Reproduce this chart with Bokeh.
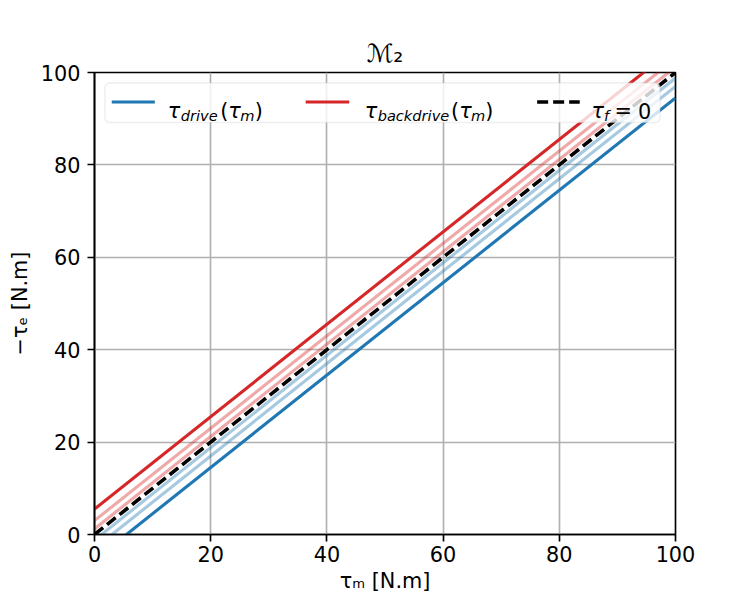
from bokeh.plotting import figure
from bokeh.models import Range1d, FixedTicker, Label, BoxAnnotation, Arrow
from bokeh.embed import file_html
from bokeh.resources import INLINE

# ---- data ----
tau_m = [0.0, 100.0]
drive_strong = [-5.5, 94.5]
drive_mid = [-3.0, 97.0]
drive_weak = [-1.2, 98.8]
back_strong = [5.5, 105.5]
back_mid = [3.0, 103.0]
back_weak = [1.2, 101.2]
no_friction = [0.0, 100.0]
ticks = [0, 20, 40, 60, 80, 100]

BLUE = "#1f77b4"
RED = "#d62728"
FONT = "DejaVu Sans"
FS = "20.8px"
FS_SUB = "14.6px"
LW = 3.1

p = figure(width=750, height=600, x_range=Range1d(0, 100), y_range=Range1d(0, 100),
           output_backend="svg", toolbar_location=None,
           min_border_left=94, min_border_right=75, min_border_top=72, min_border_bottom=66)
p.background_fill_color = "white"
p.border_fill_color = "white"
p.outline_line_color = "black"
p.outline_line_width = 1.67
p.outline_line_alpha = 1.0

p.title.text = "ℳ₂"
p.title.align = "center"
p.title.text_font = FONT
p.title.text_font_size = "25px"
p.title.text_font_style = "normal"
p.title.text_color = "black"
p.title.standoff = 9

for ax in (p.xaxis, p.yaxis):
    ax.ticker = FixedTicker(ticks=ticks)
    ax.axis_line_width = 1.67
    ax.axis_line_color = "black"
    ax.major_tick_line_width = 1.67
    ax.major_tick_line_color = "black"
    ax.major_tick_out = 7
    ax.major_tick_in = 0
    ax.minor_tick_line_color = None
    ax.major_label_text_font = FONT
    ax.major_label_text_font_size = FS
    ax.major_label_text_color = "black"
    ax.axis_label_text_font = FONT
    ax.axis_label_text_font_size = FS
    ax.axis_label_text_font_style = "normal"
    ax.axis_label_text_color = "black"
p.xaxis.major_label_standoff = 4
p.yaxis.major_label_standoff = 7
p.xaxis.axis_label = "τₘ [N.m]"
p.yaxis.axis_label = "−τₑ [N.m]"
p.xaxis.axis_label_standoff = 4
p.yaxis.axis_label_standoff = 6

p.grid.grid_line_color = "#b0b0b0"
p.grid.grid_line_width = 1.67

# ---- lines ----
p.line(tau_m, drive_weak, line_color=BLUE, line_alpha=0.4, line_width=LW)
p.line(tau_m, drive_mid, line_color=BLUE, line_alpha=0.4, line_width=LW)
p.line(tau_m, back_weak, line_color=RED, line_alpha=0.4, line_width=LW)
p.line(tau_m, back_mid, line_color=RED, line_alpha=0.4, line_width=LW)
p.line(tau_m, drive_strong, line_color=BLUE, line_width=LW)
p.line(tau_m, back_strong, line_color=RED, line_width=LW)
p.line(tau_m, no_friction, line_color="black", line_width=3.6, line_dash="11 5")

# ---- layout helpers: reference pixel -> data position ----
def fx(px):
    return (px - 93.75) / 5.8125

def fy(py):
    return (534.0 - py) / 4.62

def txt(x, y, s, size=FS, italic=False, align="left"):
    p.add_layout(Label(x=x, y=y, text=s, text_font=FONT, text_font_size=size,
                       text_font_style="italic" if italic else "normal",
                       text_color="black", text_align=align,
                       text_baseline="alphabetic"))

# ---- legend ----
p.add_layout(BoxAnnotation(left=fx(104.2), right=fx(659.5), top=fy(82.4), bottom=fy(122.0),
                           fill_color="white", fill_alpha=0.8,
                           line_color="#cccccc", line_width=1.67, border_radius=5))
ys = fy(101.5)
p.add_layout(Arrow(end=None, x_start=fx(111.0), y_start=ys, x_end=fx(154.1), y_end=ys,
                   line_color=BLUE, line_width=LW))
p.add_layout(Arrow(end=None, x_start=fx(305.0), y_start=ys, x_end=fx(348.6), y_end=ys,
                   line_color=RED, line_width=LW))
p.add_layout(Arrow(end=None, x_start=fx(536.6), y_start=ys, x_end=fx(579.2), y_end=ys,
                   line_color="black", line_width=3.6, line_dash="11 5"))

yb = fy(110.0)
ysub = fy(114.5)
pieces = [
    ("τ", 167.0, False, True), ("drive", 180.0, True, True), ("(", 219.5, False, False),
    ("τ", 227.6, False, True), ("m", 239.5, True, True), (")", 254.0, False, False),
    ("τ", 364.0, False, True), ("backdrive", 377.0, True, True), ("(", 450.5, False, False),
    ("τ", 458.6, False, True), ("m", 470.5, True, True), (")", 484.7, False, False),
    ("τ", 591.0, False, True), ("f", 603.5, True, True), ("=", 614.0, False, False),
    ("0", 637.5, False, False),
]
for s, px, sub, it in pieces:
    txt(fx(px), ysub if sub else yb, s, FS_SUB if sub else FS, it)

open("out.html", "w").write(file_html(p, INLINE))
